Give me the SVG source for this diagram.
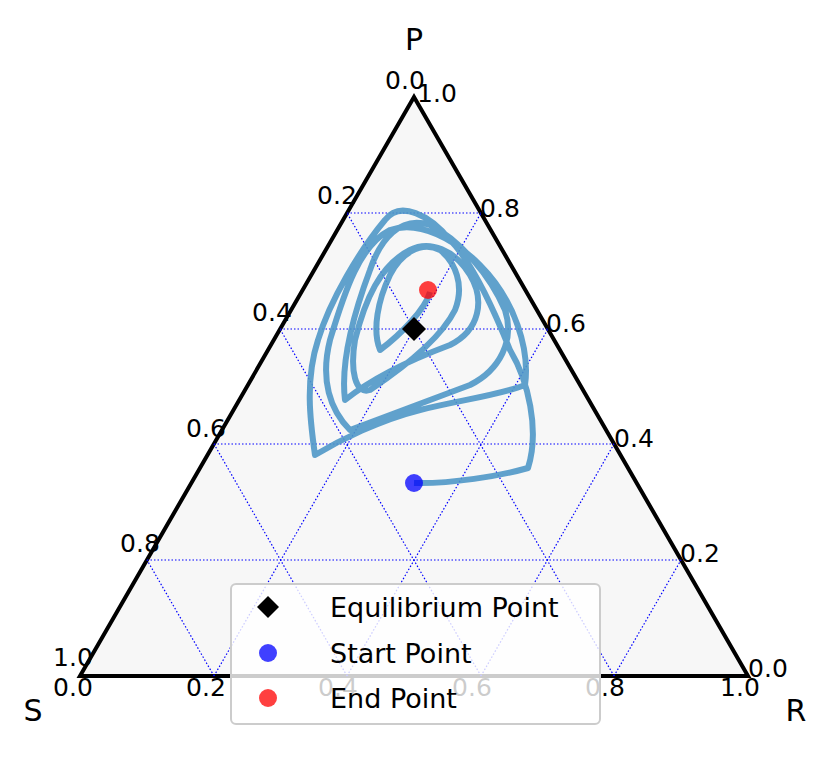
<svg xmlns="http://www.w3.org/2000/svg" width="831" height="765" viewBox="0 0 831 765">
<style>
.t{font-family:"DejaVu Sans",sans-serif;font-size:25px;fill:#000}
.ax{font-family:"DejaVu Sans",sans-serif;font-size:30px;fill:#000}
.lg{font-family:"DejaVu Sans",sans-serif;font-size:27px;fill:#000}
.g{stroke:#0000ff;stroke-width:1.2;stroke-dasharray:1.5 2;fill:none}
</style>
<rect width="831" height="765" fill="#fff"/>
<g id="triangle">
<polygon points="414,97 80,676 748,676" fill="#f7f7f7" stroke="#000" stroke-width="4" stroke-linejoin="miter"/>
</g>
<g id="grid">
<line class="g" x1="147" y1="560" x2="681" y2="560"/>
<line class="g" x1="214" y1="444" x2="614" y2="444"/>
<line class="g" x1="280" y1="329" x2="548" y2="329"/>
<line class="g" x1="347" y1="213" x2="481" y2="213"/>
<line class="g" x1="214" y1="676" x2="481" y2="213"/>
<line class="g" x1="347" y1="676" x2="548" y2="329"/>
<line class="g" x1="481" y1="676" x2="614" y2="444"/>
<line class="g" x1="614" y1="676" x2="681" y2="560"/>
<line class="g" x1="614" y1="676" x2="347" y2="213"/>
<line class="g" x1="481" y1="676" x2="280" y2="329"/>
<line class="g" x1="347" y1="676" x2="214" y2="444"/>
<line class="g" x1="214" y1="676" x2="147" y2="560"/>
</g>
<g id="connectors">
<path d="M414,483 C450,484 500,476 528,468 C540,430 528,380 510,350 C490,300 470,260 450,240 C430,215 400,200 385,220 C360,250 330,300 318,340 C305,380 310,420 315,455 C340,440 380,420 420,410 C460,400 500,395 525,385 C530,350 515,300 480,265 C455,240 420,220 390,230 C360,245 345,290 330,340 C320,380 330,410 350,430 C390,415 430,400 470,385 C500,370 515,340 505,310 C490,275 460,240 430,225 C400,215 380,240 370,270 C355,310 340,360 345,400 C370,380 410,360 450,345 C480,330 485,300 470,275 C455,250 430,240 410,250 C380,265 365,300 355,340 C350,370 355,395 370,390 C400,370 440,340 455,310 C465,285 455,262 440,250 C420,240 400,255 390,275 C378,300 372,330 380,350 C400,335 425,310 430,292" fill="none" stroke="#4f97c6" stroke-width="6" stroke-opacity="0.9" stroke-linejoin="round"/>
</g>
<g id="points">
<polygon points="414,317 426,329 414,341 402,329" fill="#000"/>
<circle cx="414" cy="483" r="9" fill="#0000ff" fill-opacity="0.75"/>
<circle cx="428" cy="290" r="9" fill="#ff0000" fill-opacity="0.75"/>
</g>
<g id="ticks">
<text class="t" x="405" y="89" text-anchor="middle">0.0</text>
<text class="t" x="337" y="204" text-anchor="middle">0.2</text>
<text class="t" x="272" y="321" text-anchor="middle">0.4</text>
<text class="t" x="206" y="437" text-anchor="middle">0.6</text>
<text class="t" x="140" y="552" text-anchor="middle">0.8</text>
<text class="t" x="73" y="666" text-anchor="middle">1.0</text>
<text class="t" x="437" y="102" text-anchor="middle">1.0</text>
<text class="t" x="500" y="217" text-anchor="middle">0.8</text>
<text class="t" x="566" y="332" text-anchor="middle">0.6</text>
<text class="t" x="634" y="447" text-anchor="middle">0.4</text>
<text class="t" x="700" y="562" text-anchor="middle">0.2</text>
<text class="t" x="768" y="677" text-anchor="middle">0.0</text>
<text class="t" x="73" y="696" text-anchor="middle">0.0</text>
<text class="t" x="206" y="696" text-anchor="middle">0.2</text>
<text class="t" x="338" y="696" text-anchor="middle">0.4</text>
<text class="t" x="472" y="696" text-anchor="middle">0.6</text>
<text class="t" x="605" y="696" text-anchor="middle">0.8</text>
<text class="t" x="740" y="696" text-anchor="middle">1.0</text>
<text class="ax" x="414" y="50" text-anchor="middle">P</text>
<text class="ax" x="33" y="721" text-anchor="middle">S</text>
<text class="ax" x="796" y="721" text-anchor="middle">R</text>
</g>
<g id="legend">
<rect x="231" y="584" width="369" height="140" rx="5" fill="#fff" fill-opacity="0.8" stroke="#ccc" stroke-width="2"/>
<polygon points="268,596 279,607 268,618 257,607" fill="#000"/>
<circle cx="268" cy="653" r="9" fill="#0000ff" fill-opacity="0.75"/>
<circle cx="268" cy="698" r="9" fill="#ff0000" fill-opacity="0.75"/>
<text class="lg" x="330" y="617">Equilibrium Point</text>
<text class="lg" x="330" y="663">Start Point</text>
<text class="lg" x="330" y="708">End Point</text>
</g>
</svg>
